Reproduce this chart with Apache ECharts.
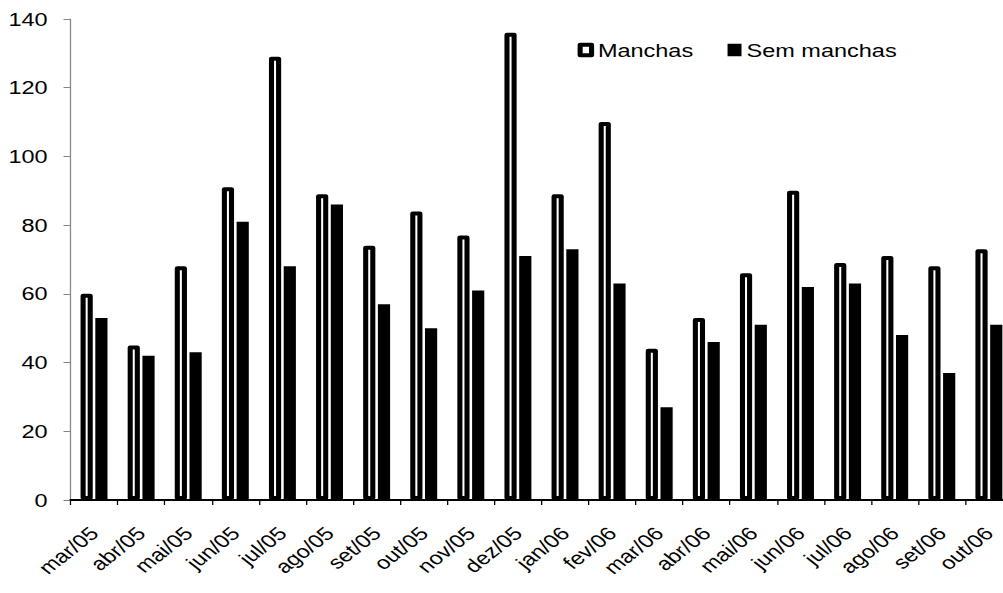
<!DOCTYPE html>
<html>
<head>
<meta charset="utf-8">
<script src="https://cdn.jsdelivr.net/npm/echarts@6/dist/echarts.min.js"></script>
<style>
  html, body { margin: 0; padding: 0; background: #fff; overflow: hidden; }
  #wrap { width: 1003px; height: 593px; overflow: hidden; position: relative; }
  #chart { width: 790px; height: 593px; transform: scaleX(1.27); transform-origin: 0 0; }
</style>
</head>
<body>
<div id="wrap"><div id="chart"></div></div>
<script>
const categories = ['mar/05','abr/05','mai/05','jun/05','jul/05','ago/05','set/05','out/05','nov/05','dez/05','jan/06','fev/06','mar/06','abr/06','mai/06','jun/06','jul/06','ago/06','set/06','out/06'];
const manchas = [60,45,68,91,129,89,74,84,77,136,89,110,44,53,66,90,69,71,68,73];
const semManchas = [53,42,43,81,68,86,57,50,61,71,73,63,27,46,51,62,63,48,37,51];
const yMin = 0, yMax = 140, yStep = 20;

const FONT = '"Liberation Sans", Arial, sans-serif';
const chart = echarts.init(document.getElementById('chart'), null, { renderer: 'svg' });
chart.setOption({
  animation: false,
  backgroundColor: '#ffffff',
  textStyle: { fontFamily: FONT },
  legend: {
    left: 449.8,
    top: 34,
    icon: 'rect',
    itemWidth: 9,
    itemHeight: 10.5,
    itemGap: 27,
    textStyle: { fontFamily: FONT, fontSize: 18.5, color: '#000', lineHeight: 22 },
    data: [
      { name: 'Manchas', itemStyle: { color: '#fff', borderColor: '#000', borderWidth: 4 } },
      { name: 'Sem manchas', itemStyle: { color: '#000', borderColor: '#000', borderWidth: 2 } }
    ]
  },
  grid: { left: 55.5, top: 19, width: 741.7, height: 481, containLabel: false, outerBoundsMode: 'none' },
  xAxis: {
    type: 'category',
    data: categories,
    boundaryGap: true,
    axisLine: { lineStyle: { color: '#000', width: 2 } },
    axisTick: { show: true, length: 5, lineStyle: { color: '#000', width: 1 } },
    axisLabel: { rotate: 45, margin: 30, fontFamily: FONT, fontSize: 18.5, color: '#000', interval: 0, hideOverlap: false },
    splitLine: { show: false }
  },
  yAxis: {
    type: 'value',
    min: yMin, max: yMax, interval: yStep,
    axisLine: { show: true, lineStyle: { color: '#868686', width: 1 } },
    axisTick: { show: true, length: 5.5, lineStyle: { color: '#868686', width: 1 } },
    axisLabel: { margin: 18, fontFamily: FONT, fontSize: 18.5, color: '#000' },
    splitLine: { show: false }
  },
  series: [
    {
      name: 'Manchas', type: 'bar', data: manchas,
      barWidth: 9.6, barGap: '21%',
      itemStyle: { color: '#fff', borderColor: '#000', borderWidth: 4, borderJoin: 'round' }
    },
    {
      name: 'Sem manchas', type: 'bar', data: semManchas,
      barWidth: 9.6, barGap: '21%',
      itemStyle: { color: '#000' }
    }
  ]
});
</script>
</body>
</html>
